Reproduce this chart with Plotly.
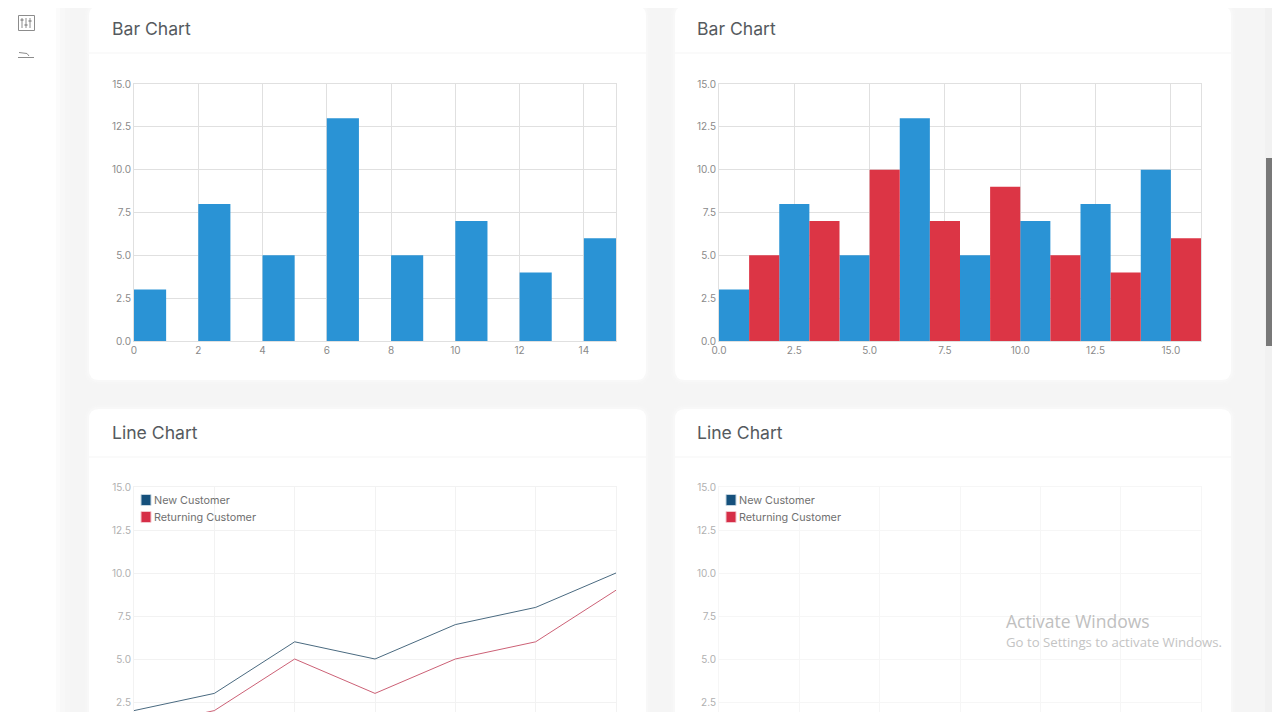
import plotly.graph_objects as go

# ---- data ----
hist1_x = [0, 2, 4, 6, 8, 10, 12, 14]
hist1_y = [3, 8, 5, 13, 5, 7, 4, 6]
hist2_blue_x = [0, 2, 4, 6, 8, 10, 12, 14]
hist2_blue_y = [3, 8, 5, 13, 5, 7, 8, 10]
hist2_red_x = [1, 3, 5, 7, 9, 11, 13, 15]
hist2_red_y = [5, 7, 10, 7, 9, 5, 4, 6]
line_x = [0, 1, 2, 3, 4, 5, 6]
new_customer = [2, 3, 6, 5, 7, 8, 10]
returning_customer = [1, 2, 5, 3, 5, 6, 9]
series_names = ["New Customer", "Returning Customer"]
y_ticks = [0, 2.5, 5, 7.5, 10, 12.5, 15]
x_ticks_1 = [0, 2, 4, 6, 8, 10, 12, 14]
x_ticks_2 = [0, 2.5, 5, 7.5, 10, 12.5, 15]

# the page keeps an 8 px margin around the figure
OFF = 8
W, H = 1272, 704
BOTTOM = OFF + H
BLUE, RED = "#2a93d5", "#dc3545"
FONT = "Inter, 'Open Sans', sans-serif"

def fx(p): return (p - OFF) / W
def fy(p): return 1 - (p - OFF) / H

fig = go.Figure()

def axes(n, x0, x1, y0, y1, xr, yr, xticks, xfmt, grid, tickcol, showx=True):
    s = "" if n == 1 else str(n)
    fig.update_layout(**{
        "xaxis" + s: dict(domain=[fx(x0), fx(x1)], range=xr, anchor="y" + s, tickmode="array", automargin=False,
                          tickvals=xticks, tickformat=xfmt, showgrid=True, gridcolor=grid, gridwidth=1,
                          zeroline=False, showline=True, mirror=True, linecolor=grid, linewidth=1,
                          showticklabels=showx, ticks="",
                          tickfont=dict(family=FONT, size=10, color=tickcol)),
        "yaxis" + s: dict(domain=[fy(y1), fy(y0)], range=yr, anchor="x" + s, tickmode="array", automargin=False,
                          tickvals=y_ticks, tickformat=".1f", showgrid=True, gridcolor=grid, gridwidth=1,
                          zeroline=False, showline=True, mirror=True, linecolor=grid, linewidth=1, ticks="",
                          tickfont=dict(family=FONT, size=10, color=tickcol)),
    })

BAR_GRID = "#e0e0e0"
axes(1, 134, 616, 84, 341, [0, 15], [0, 15], x_ticks_1, "d", BAR_GRID, "#8a8a8a")
axes(2, 719, 1201, 84, 341, [0, 16], [0, 15], x_ticks_2, ".1f", BAR_GRID, "#8a8a8a")
# line charts: the zero line lies below the window edge
low = (745 - BOTTOM) / 17.2
axes(3, 134, 616, 487, BOTTOM, [0, 6], [low, 15], line_x, "d", "#f2f2f2", "#b0b0b0", False)
axes(4, 719, 1201, 487, BOTTOM, [0, 6], [low, 15], line_x, "d", "#f6f6f6", "#b0b0b0", False)

def bar(x, y, c, name, xa, ya):
    fig.add_trace(go.Bar(x=x, y=y, width=1, offset=0, marker=dict(color=c, line_width=0),
                         name=name, xaxis=xa, yaxis=ya, showlegend=False))

bar(hist1_x, hist1_y, BLUE, series_names[0], "x", "y")
bar(hist2_blue_x, hist2_blue_y, BLUE, series_names[0], "x2", "y2")
bar(hist2_red_x, hist2_red_y, RED, series_names[1], "x2", "y2")

fig.add_trace(go.Scatter(x=line_x, y=new_customer, mode="lines", line=dict(color="#4a6a80", width=1),
                         name=series_names[0], xaxis="x3", yaxis="y3", showlegend=False))
fig.add_trace(go.Scatter(x=line_x, y=returning_customer, mode="lines", line=dict(color="#cc6176", width=1),
                         name=series_names[1], xaxis="x3", yaxis="y3", showlegend=False))
# second line chart: the lines have not been drawn yet
fig.add_trace(go.Scatter(x=line_x, y=[None] * 7, mode="lines", name=series_names[0],
                         xaxis="x4", yaxis="y4", showlegend=False))

shapes, ann = [], []

def rect(x0, y0, x1, y1, fill, line=None, lw=0):
    shapes.append(dict(type="rect", xref="paper", yref="paper", x0=fx(x0), x1=fx(x1), y0=fy(y1), y1=fy(y0),
                       fillcolor=fill, line=dict(color=line or fill, width=lw), layer="below"))

def seg(x0, y0, x1, y1, c, w=1):
    shapes.append(dict(type="line", xref="paper", yref="paper", x0=fx(x0), x1=fx(x1), y0=fy(y0), y1=fy(y1),
                       line=dict(color=c, width=w), layer="above"))

def poly(pts, c):
    d = "M" + " L".join(f"{fx(a)},{fy(b)}" for a, b in pts) + " Z"
    shapes.append(dict(type="path", xref="paper", yref="paper", path=d, fillcolor=c, line_width=0, layer="above"))

def rr(x0, y0, x1, y1, r, c):
    a, b, e, f = fx(x0), fx(x1), fy(y0), fy(y1)
    rx, ry = r / W, r / H
    d = (f"M{a+rx},{e} L{b-rx},{e} Q{b},{e} {b},{e-ry} L{b},{f+ry} Q{b},{f} {b-rx},{f} "
         f"L{a+rx},{f} Q{a},{f} {a},{f+ry} L{a},{e-ry} Q{a},{e} {a+rx},{e} Z")
    shapes.append(dict(type="path", xref="paper", yref="paper", path=d, fillcolor=c, line_width=0, layer="below"))

def card(x0, y0, x1, y1, r=10):
    for g, c in ((4, "#f6f6f6"), (2, "#f8f8f8")):
        rr(x0 - g, y0 - g, x1 + g, y1 + g, r + g, c)
    rr(x0, y0, x1, y1, r, "#ffffff")

for g, c in ((14, "#f6f6f6"), (9, "#f8f8f8"), (4, "#fbfbfb")):
    rect(56, 0, 56 + g, 720, c)
rect(0, 0, 56, 720, "#ffffff")

card(89, 6, 646, 380); card(675, 6, 1231, 380)
card(89, 409, 646, 760); card(675, 409, 1231, 760)
for a, b in ((89, 646), (675, 1231)):
    for y in (52.5, 456.5):
        rect(a, y, b, y + 1, "#f6f6f6")

def text(x, y, s, size, color, family=FONT):
    ann.append(dict(xref="paper", yref="paper", x=fx(x), y=fy(y), text=s, showarrow=False, xanchor="left",
                    yanchor="middle", align="left", font=dict(family=family, size=size, color=color),
                    borderpad=0, borderwidth=0))

for x in (112, 697):
    text(x, 29, "Bar Chart", 17.6, "#555a5e")
    text(x, 432, "Line Chart", 17.6, "#555a5e")

for dx in (0, 585):
    for y, c, b, s in ((500, "#15507c", "#c5d5e0", series_names[0]), (517, "#d62e47", "#f3c6cd", series_names[1])):
        rect(141 + dx, y - 5.5, 151 + dx, y + 5.5, c, b, 1)
        text(154 + dx, y, s, 10.8, "#707070")

# Windows watermark
text(1005.5, 621, "Activate Windows", 17.5, "#c0c0c0", "'Open Sans', sans-serif")
text(1005.5, 642, "Go to Settings to activate Windows.", 13.2, "#c4c4c4", "'Open Sans', sans-serif")

# scrollbar
rect(1265, 0, 1280, 720, "#f1f1f1")
rect(1266, 158, 1279, 346, "#787878")

# sidebar icons
ICON = "#8c8c8c"
shapes.append(dict(type="rect", xref="paper", yref="paper", x0=fx(18.5), x1=fx(34.5), y0=fy(30.5), y1=fy(15.5),
                   line=dict(color=ICON, width=1), layer="above"))
for x, k in ((22, 20), (26, 25), (30, 21)):
    seg(x, 18, x, 28, ICON)
    seg(x - 1.5, k, x + 1.5, k, ICON, 1.5)
seg(18, 57.5, 34, 57.5, ICON)
seg(19, 52.5, 27, 53.5, ICON)
seg(27, 53.5, 29, 56, ICON)

fig.update_layout(width=W, height=H, margin=dict(l=0, r=0, t=0, b=0, autoexpand=False), autosize=False,
                  paper_bgcolor="#f5f5f5", plot_bgcolor="rgba(0,0,0,0)", barmode="overlay",
                  shapes=shapes, annotations=ann, font=dict(family=FONT), showlegend=False)

fig.write_html("out.html", config=dict(displayModeBar=False))
